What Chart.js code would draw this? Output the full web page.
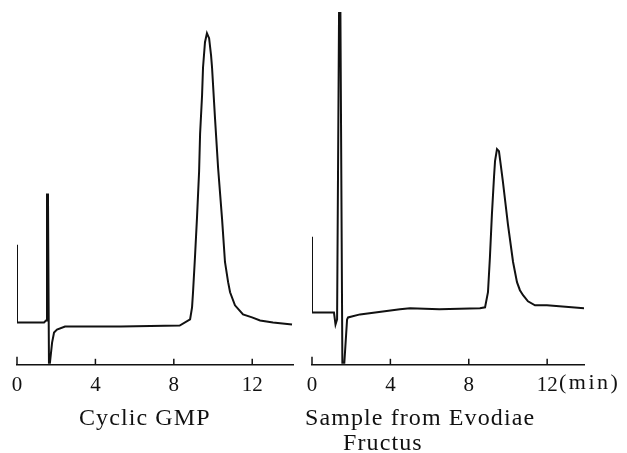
<!DOCTYPE html>
<html>
<head>
<meta charset="utf-8">
<script src="https://cdn.jsdelivr.net/npm/chart.js@4.4.0/dist/chart.umd.min.js"></script>
<style>
  body { margin: 0; background: #fff; width: 627px; height: 453px; overflow: hidden; position: relative; }
  .box { position: absolute; top: 0; height: 410px; }
  .txt { position: absolute; font-family: "Liberation Serif", "DejaVu Serif", serif; font-size: 24px; line-height: 26px; color: #111; letter-spacing: 1.1px; white-space: nowrap; }
</style>
</head>
<body>
<div class="box" style="left:0;width:310px"><canvas id="c1" width="310" height="410"></canvas></div>
<div class="box" style="left:295px;width:332px"><canvas id="c2" width="332" height="410"></canvas></div>
<div class="txt" style="left:559px;top:369px;font-size:22px;letter-spacing:2.5px">(min)</div>
<div class="txt" style="left:79px;top:404px">Cyclic GMP</div>
<div class="txt" style="left:305px;top:404px">Sample from Evodiae</div>
<div class="txt" style="left:343px;top:429px">Fructus</div>
<script>
// retention time (min) and detector signal
const tickValues = [0, 4, 8, 12];

const gmpTime = [0, 0, 1.38, 1.48, 1.53, 1.58, 1.63, 1.68, 1.79, 1.89, 2.04, 2.45, 5.3, 8.3, 8.83, 8.93, 8.98, 9.08, 9.18, 9.29, 9.34, 9.44, 9.49, 9.59, 9.69, 9.8, 9.9, 9.95, 10.1, 10.26, 10.46, 10.61, 10.77, 10.87, 11.12, 11.53, 11.99, 12.4, 13.06, 14.03];
const gmpSignal = [119, 42, 42, 44, 169, 169, 2, 2, 22, 32, 35, 38, 38, 39, 45, 57, 72, 107, 145, 192, 229, 267, 295, 320, 329, 324, 307, 295, 245, 195, 145, 102, 82, 72, 59, 50, 47, 44, 42, 40];

const evoTime = [0, 0, 1.12, 1.2, 1.28, 1.38, 1.45, 1.55, 1.65, 1.79, 1.84, 2.45, 4.49, 5.0, 6.5, 8.57, 8.83, 8.98, 9.08, 9.18, 9.29, 9.34, 9.44, 9.54, 9.64, 9.74, 10.0, 10.26, 10.46, 10.61, 10.77, 11.02, 11.38, 11.99, 13.93];
const evoSignal = [127, 52, 52, 40, 45, 349, 349, 2, 2, 45, 47, 50, 55, 56, 55, 56, 57, 72, 107, 149, 187, 202, 214, 212, 197, 182, 139, 102, 82, 74, 69, 63, 59, 59, 56];

// piccole tacche verso l'alto sull'asse x
const tacche = {
    id: 'tacche',
    afterDraw(chart) {
        let ctx = chart.ctx;
        let sx = chart.scales.x;
        let base = chart.chartArea.bottom;
        ctx.save();
        ctx.strokeStyle = '#111';
        ctx.lineWidth = 1.5;
        tickValues.forEach(v => {
            let px = sx.getPixelForValue(v);
            ctx.beginPath();
            ctx.moveTo(px, base);
            ctx.lineTo(px, base - (v === 0 ? 8 : 6));
            ctx.stroke();
        });
        ctx.restore();
    }
};

function creaCromatogramma(canvas, tempi, segnale, xMax, padLeft, padRight) {
    let punti = tempi.map((t, i) => ({ x: t, y: segnale[i] }));
    new Chart(canvas.getContext('2d'), {
        type: 'line',
        data: {
            datasets: [{
                data: punti,
                borderColor: '#111',
                borderWidth: 2,
                pointRadius: 0,
                tension: 0,
                fill: false
            }]
        },
        options: {
            responsive: false,
            animation: false,
            layout: { padding: { left: padLeft, right: padRight, top: 10, bottom: 4 } },
            plugins: { legend: { display: false }, tooltip: { enabled: false } },
            scales: {
                x: {
                    type: 'linear',
                    min: 0,
                    max: xMax,
                    afterBuildTicks: axis => { axis.ticks = tickValues.map(v => ({ value: v })); },
                    grid: { display: false, drawTicks: false },
                    border: { display: true, color: '#111', width: 1.5 },
                    ticks: {
                        padding: 8,
                        color: '#111',
                        maxRotation: 0,
                        font: { family: 'Liberation Serif', size: 21 }
                    }
                },
                y: { display: false, min: 0, max: 352 }
            }
        },
        plugins: [tacche]
    });
}

creaCromatogramma(document.getElementById('c1'), gmpTime, gmpSignal, 14.08, 17, 17);
creaCromatogramma(document.getElementById('c2'), evoTime, evoSignal, 13.88, 17, 43);
</script>
</body>
</html>
